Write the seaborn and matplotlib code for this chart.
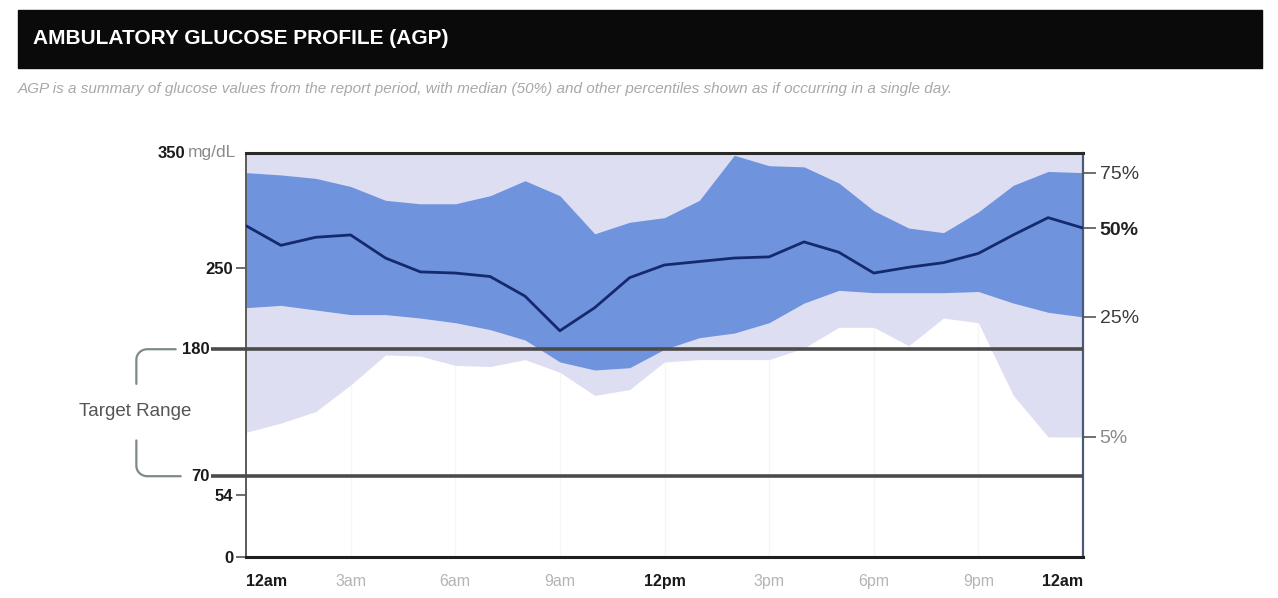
import numpy as np
import pandas as pd
import matplotlib
matplotlib.use("Agg")
import matplotlib.pyplot as plt
from matplotlib import transforms
from matplotlib.patches import Rectangle
import seaborn as sns

# Hour of day (0 = midnight, 24 = next midnight)
hours = list(range(25))

# Glucose percentiles, mg/dL, hourly
p95 = [375, 372, 370, 368, 365, 362, 360, 358, 362, 360, 355, 358, 362,
       370, 385, 380, 375, 370, 365, 360, 358, 362, 370, 375, 375]
p75 = [333, 331, 328, 321, 309, 306, 306, 313, 326, 313, 280, 290, 294,
       309, 348, 339, 338, 324, 300, 285, 281, 299, 322, 334, 333]
p50 = [287, 270, 277, 279, 259, 247, 246, 243, 226, 196, 216, 242, 253,
       256, 259, 260, 273, 264, 246, 251, 255, 263, 279, 294, 285]
p25 = [216, 218, 214, 210, 210, 207, 203, 197, 188, 169, 162, 164, 180,
       190, 194, 203, 220, 231, 229, 229, 229, 230, 220, 212, 208]
p05 = [108, 116, 126, 149, 175, 174, 166, 165, 171, 160, 140, 145, 169,
       171, 171, 171, 181, 199, 199, 183, 207, 203, 140, 104, 104]

tick_hours = [0, 3, 6, 9, 12, 15, 18, 21, 24]
tick_labels = ["12am", "3am", "6am", "9am", "12pm", "3pm", "6pm", "9pm", "12am"]
bold_ticks = {"12am", "12pm"}

y_ticks = [0, 54, 250]
target_low, target_high, y_max = 70, 180, 350
pct_labels = ["75%", "50%", "25%", "5%"]

title = "AMBULATORY GLUCOSE PROFILE (AGP)"
subtitle = ("AGP is a summary of glucose values from the report period, with median (50%) "
            "and other percentiles shown as if occurring in a single day.")

LIGHT = "#dedef3"
DARK = "#6f93dc"
NAVY = "#152a6e"
LINE = "#4b4b4b"
FONTS = ["Liberation Sans", "DejaVu Sans"]

sns.set_theme(style="white")
plt.rcParams["font.family"] = FONTS

W, H = 1278, 598
fig = plt.figure(figsize=(W / 100, H / 100), dpi=100)
fig.patch.set_facecolor("white")

# Header bar
fig.patches.append(Rectangle((18 / W, 1 - 68 / H), 1244 / W, 58 / H,
                             transform=fig.transFigure, color="#0a0a0a", zorder=0))
fig.text(33 / W, 1 - 39 / H, title, color="white", fontsize=15,
         fontweight="bold", va="center", ha="left")
fig.text(18 / W, 1 - 89 / H, subtitle, color="#a8a8a8", fontsize=11,
         style="italic", va="center", ha="left")

ax = fig.add_axes([246 / W, 1 - 557 / H, 837 / W, 404 / H])

df = pd.DataFrame({"hour": hours, "p95": p95, "p75": p75, "p50": p50,
                   "p25": p25, "p05": p05})

# Very faint vertical guides every three hours
for h in tick_hours[1:-1]:
    ax.axvline(h, color="#f6f6f8", lw=1, zorder=0)

ax.fill_between(df["hour"], df["p05"], df["p95"], color=LIGHT, lw=0, zorder=1)
ax.fill_between(df["hour"], df["p25"], df["p75"], color=DARK, lw=0, zorder=2)
sns.lineplot(data=df, x="hour", y="p50", ax=ax, color=NAVY, lw=2.0, zorder=4)

ax.set_xlim(0, 24)
ax.set_ylim(0, y_max)
ax.set_xlabel("")
ax.set_ylabel("")

# Spines
for side in ["top", "left", "bottom", "right"]:
    ax.spines[side].set_visible(True)
ax.spines["top"].set_color("#2a2a2a")
ax.spines["top"].set_linewidth(2.2)
ax.spines["left"].set_color("#5a5a5a")
ax.spines["left"].set_linewidth(1.4)
ax.spines["bottom"].set_color("#1e1e1e")
ax.spines["bottom"].set_linewidth(2.2)
ax.spines["right"].set_color("#4a5a7a")
ax.spines["right"].set_linewidth(1.6)

# Target range lines, extended left toward their labels
blend = transforms.blended_transform_factory(ax.transAxes, ax.transData)
for v in (target_low, target_high):
    ax.plot([-0.042, 1.0], [v, v], color=LINE, lw=2.6, transform=blend,
            clip_on=False, zorder=5, solid_capstyle="butt")

label_font = dict(fontsize=12, fontweight="bold", color="#1a1a1a")

# Left y ticks
ax.set_yticks(y_ticks)
ax.set_yticklabels([str(v) for v in y_ticks])
ax.tick_params(axis="y", which="major", left=True, length=7, width=1.2,
               color="#555555", pad=2)
for lab in ax.get_yticklabels():
    lab.set_fontsize(12)
    lab.set_fontweight("bold")
    lab.set_color("#1a1a1a")

ax.text(-0.072, y_max, str(y_max), transform=blend, ha="right", va="center",
        **label_font)
ax.text(-0.070, y_max, "mg/dL", transform=blend, ha="left", va="center",
        fontsize=12.5, color="#8a8a8a")
ax.text(-0.044, target_high, str(target_high), transform=blend, ha="right",
        va="center", **label_font)
ax.text(-0.044, target_low, str(target_low), transform=blend, ha="right",
        va="center", **label_font)

# Target range bracket
r = 0.013
ry = 9
th = np.linspace(0, np.pi / 2, 12)
bx = -0.131
top_x = np.concatenate([[-0.084], bx + r - r * np.sin(th), [bx]])
top_y = np.concatenate([[target_high], target_high - ry + ry * np.cos(th), [150]])
ax.plot(top_x, top_y, color="#7d8a8a", lw=1.6, transform=blend, clip_on=False)
bot_x = np.concatenate([[-0.078], bx + r - r * np.sin(th), [bx]])
bot_y = np.concatenate([[target_low], target_low + ry - ry * np.cos(th), [101]])
ax.plot(bot_x, bot_y, color="#7d8a8a", lw=1.6, transform=blend, clip_on=False)
ax.text(-0.132, (target_low + target_high) / 2 + 1, "Target Range", transform=blend,
        ha="center", va="center", fontsize=13.5, color="#555555")

# X ticks
ax.set_xticks(tick_hours)
ax.set_xticklabels(tick_labels)
ax.tick_params(axis="x", bottom=False, pad=6)
for i, lab in enumerate(ax.get_xticklabels()):
    txt = lab.get_text()
    lab.set_fontsize(11.5)
    if txt in bold_ticks:
        lab.set_fontweight("bold")
        lab.set_color("#1a1a1a")
    else:
        lab.set_color("#b4b4b4")
    if i == 0:
        lab.set_ha("left")
    elif i == len(tick_hours) - 1:
        lab.set_ha("right")

# Right-hand percentile labels at the end-of-day values
ax2 = ax.twinx()
ax2.set_ylim(0, y_max)
ax2.set_yticks([p75[-1], p50[-1], p25[-1], p05[-1]])
ax2.set_yticklabels(pct_labels)
ax2.tick_params(axis="y", right=True, length=9, width=1.2, color="#555555", pad=3)
for sp in ax2.spines.values():
    sp.set_visible(False)
ax2.grid(False)
pct_colors = ["#3c3c3c", "#222222", "#3c3c3c", "#8a8a8a"]
for lab, c in zip(ax2.get_yticklabels(), pct_colors):
    lab.set_fontsize(14)
    lab.set_color(c)
ax2.get_yticklabels()[1].set_fontweight("bold")

fig.savefig("out.png", dpi=100, facecolor="white")
